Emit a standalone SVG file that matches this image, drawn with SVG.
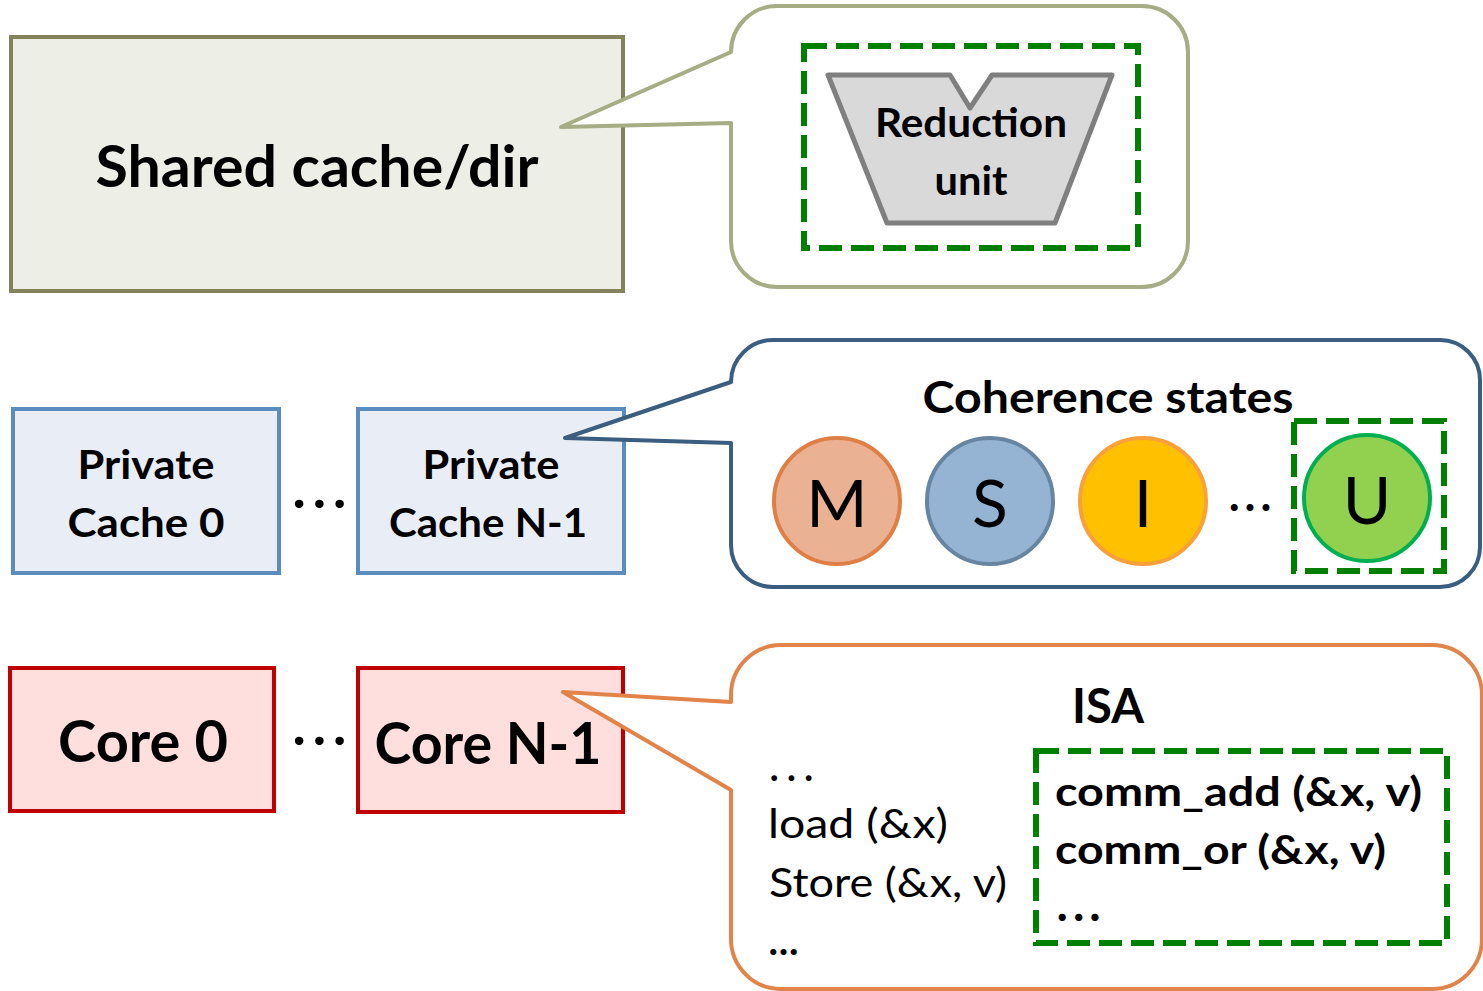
<svg xmlns="http://www.w3.org/2000/svg" width="1483" height="991" viewBox="0 0 1483 991">
<style>
.b{font-family:Lato,"Liberation Sans",sans-serif;font-weight:bold;fill:#000}
.r{font-family:Lato,"Liberation Sans",sans-serif;font-weight:normal;fill:#000}
.dash{fill:none;stroke:#008000;stroke-width:6;stroke-dasharray:23 9}
.call{fill:#fff;stroke-width:4;stroke-linejoin:round}
</style>
<rect width="1483" height="991" fill="#fff"/>
<g id="shared">
<rect x="11" y="37" width="612" height="254" fill="#EDEEE6" stroke="#81845A" stroke-width="4"/>
<text class="b" x="317" y="187" font-size="58" text-anchor="middle" textLength="443" lengthAdjust="spacingAndGlyphs">Shared cache/dir</text>
</g>
<g id="pc0">
<rect x="13" y="409" width="266" height="164" fill="#E9EEF6" stroke="#5A8DBE" stroke-width="4"/>
<text class="b" x="146" y="479" font-size="40" text-anchor="middle" textLength="137" lengthAdjust="spacingAndGlyphs">Private</text>
<text class="b" x="146" y="537" font-size="40" text-anchor="middle" textLength="157" lengthAdjust="spacingAndGlyphs">Cache 0</text>
</g>
<g id="pcn">
<rect x="358" y="409" width="266" height="164" fill="#E9EEF6" stroke="#5A8DBE" stroke-width="4"/>
<text class="b" x="491" y="479" font-size="40" text-anchor="middle" textLength="137" lengthAdjust="spacingAndGlyphs">Private</text>
<text class="b" x="488" y="537" font-size="40" text-anchor="middle" textLength="198" lengthAdjust="spacingAndGlyphs">Cache N-1</text>
</g>
<g id="core0">
<rect x="10" y="668" width="264" height="143" fill="#FFDEDE" stroke="#C00000" stroke-width="4"/>
<text class="b" x="143" y="762" font-size="58" text-anchor="middle" textLength="170" lengthAdjust="spacingAndGlyphs">Core 0</text>
</g>
<g id="coren">
<rect x="358" y="668" width="265" height="144" fill="#FFDEDE" stroke="#C00000" stroke-width="4"/>
<text class="b" x="488" y="764" font-size="58" text-anchor="middle" textLength="227" lengthAdjust="spacingAndGlyphs">Core N-1</text>
</g>
<g id="dots">
<text class="b" x="292.5" y="508" font-size="56" letter-spacing="7">...</text>
<text class="b" x="292.5" y="745" font-size="56" letter-spacing="7">...</text>
</g>
<g id="connectors">
<path class="call" stroke="#A6AC84" d="M731,123 L561,127 L731,52 A46,46 0 0 1 777,6 L1142,6 A46,46 0 0 1 1188,52 L1188,241 A46,46 0 0 1 1142,287 L777,287 A46,46 0 0 1 731,241 Z"/>
<path class="call" stroke="#3B5E80" d="M731,443 L565,438 L731,382 A42,42 0 0 1 773,340 L1440,340 A40,40 0 0 1 1480,380 L1480,547 A40,40 0 0 1 1440,587 L773,587 A42,42 0 0 1 731,545 Z"/>
<path class="call" stroke="#E2844A" d="M731,790 L563,692 L731,702 L731,695 A50,50 0 0 1 781,645 L1432,645 A50,50 0 0 1 1482,695 L1482,939 A50,50 0 0 1 1432,989 L781,989 A50,50 0 0 1 731,939 Z"/>
</g>
<g id="reduction">
<rect class="dash" x="804" y="46" width="334" height="202"/>
<polygon points="828,75 950,75 970,108 992,75 1112,75 1055,223 887,223" fill="#D9D9D9" stroke="#7F7F7F" stroke-width="5" stroke-linejoin="round"/>
<text class="b" x="971" y="137" font-size="40" text-anchor="middle" textLength="192" lengthAdjust="spacingAndGlyphs">Reduction</text>
<text class="b" x="971" y="195" font-size="40" text-anchor="middle" textLength="73" lengthAdjust="spacingAndGlyphs">unit</text>
</g>
<g id="coherence">
<text class="b" x="1108" y="413" font-size="44" text-anchor="middle" textLength="371" lengthAdjust="spacingAndGlyphs">Coherence states</text>
<circle cx="837" cy="501" r="63" fill="#EAB192" stroke="#E07F45" stroke-width="4"/>
<circle cx="990" cy="501" r="63" fill="#95B3D3" stroke="#6785A0" stroke-width="4"/>
<circle cx="1143" cy="501" r="63" fill="#FFC000" stroke="#F9A03A" stroke-width="4"/>
<text class="b" x="1228.7" y="511" font-size="46" letter-spacing="5">...</text>
<rect class="dash" x="1294" y="421" width="150" height="150"/>
<circle cx="1367" cy="498" r="63" fill="#92D050" stroke="#00B050" stroke-width="4"/>
<text class="r" x="837" y="527" font-size="66" text-anchor="middle">M</text>
<text class="r" x="990" y="527" font-size="66" text-anchor="middle">S</text>
<text class="r" x="1143" y="527" font-size="66" text-anchor="middle">I</text>
<text class="r" x="1367" y="524" font-size="66" text-anchor="middle">U</text>
</g>
<g id="isa">
<text class="b" x="1108" y="723" font-size="48" text-anchor="middle" textLength="72" lengthAdjust="spacingAndGlyphs">ISA</text>
<text class="r" x="768.7" y="780.5" font-size="46" letter-spacing="6.4">...</text>
<text class="r" x="768" y="838" font-size="40" textLength="180" lengthAdjust="spacingAndGlyphs">load (&amp;x)</text>
<text class="r" x="769" y="897" font-size="40" textLength="238" lengthAdjust="spacingAndGlyphs">Store (&amp;x, v)</text>
<text class="b" x="768.4" y="954.5" font-size="40" letter-spacing="0.8">...</text>
<rect class="dash" x="1036" y="751" width="411" height="192"/>
<text class="b" x="1055" y="806" font-size="40" textLength="367" lengthAdjust="spacingAndGlyphs">comm_add (&amp;x, v)</text>
<text class="b" x="1055" y="864" font-size="40" textLength="331" lengthAdjust="spacingAndGlyphs">comm_or (&amp;x, v)</text>
<text class="b" x="1056.5" y="921" font-size="48" letter-spacing="5">...</text>
</g>
</svg>
